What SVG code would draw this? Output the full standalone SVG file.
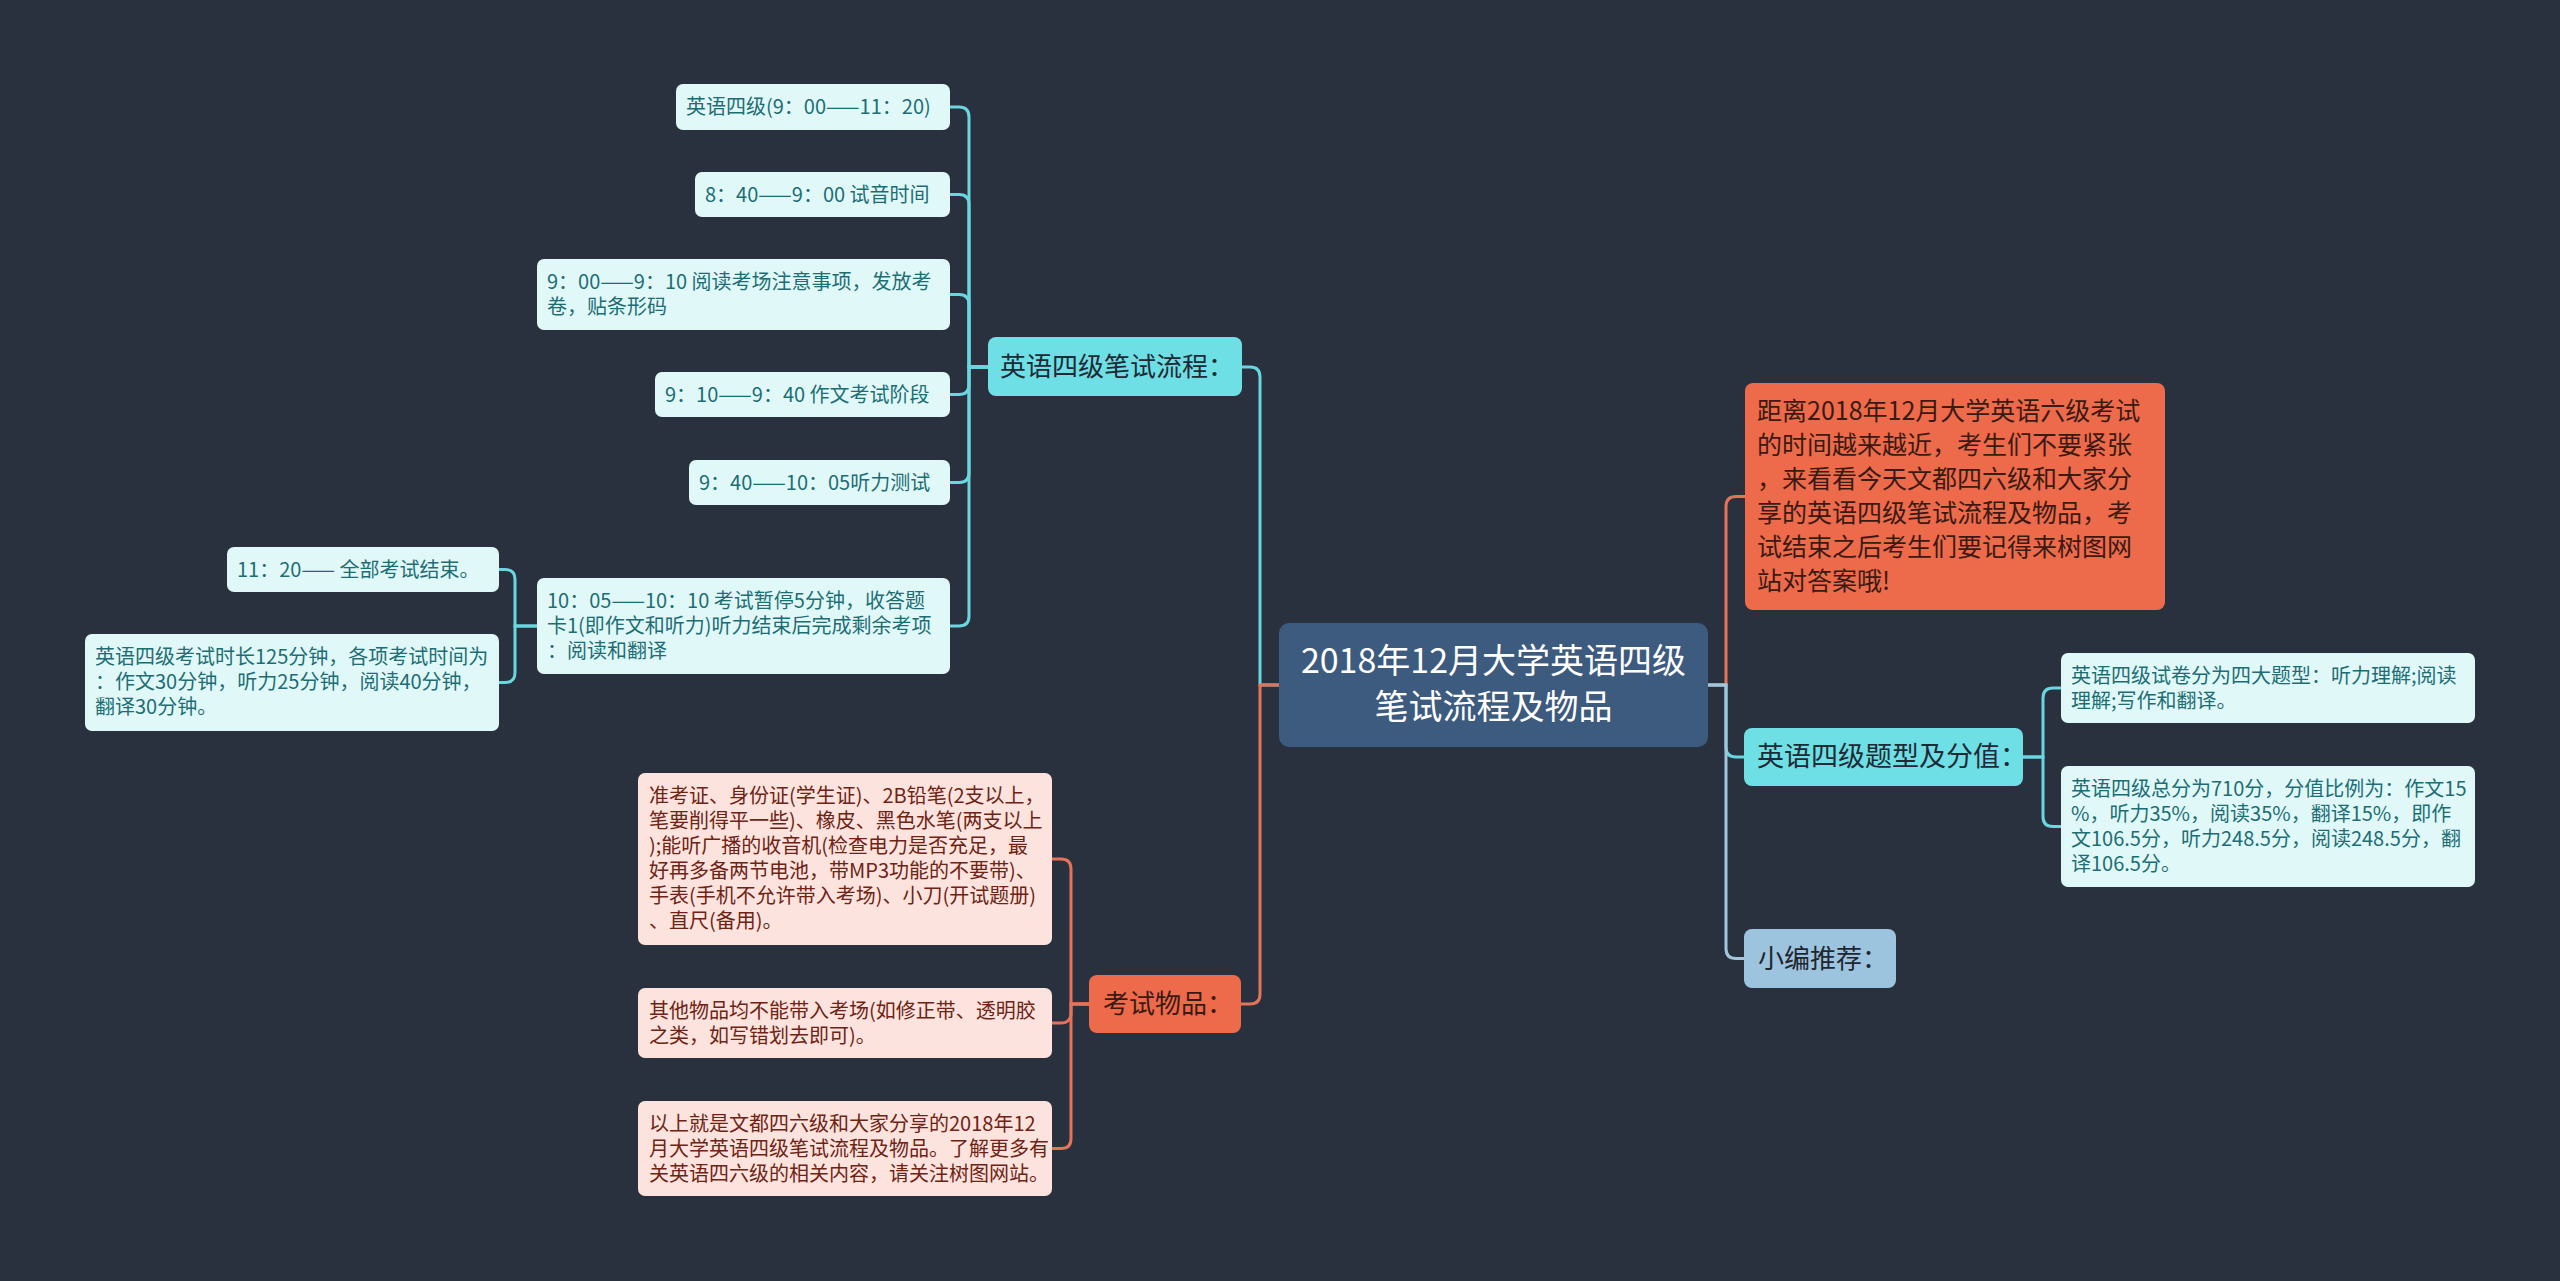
<svg xmlns="http://www.w3.org/2000/svg" width="2560" height="1281" viewBox="0 0 2560 1281">
<style>
text{font-family:"Noto Sans CJK SC","Noto Sans",sans-serif;}
.bg{fill:#29303e;}
.root rect{fill:#3d5a7f;}
.root text{fill:#ffffff;font-size:34px;text-anchor:middle;}
.cy rect{fill:#6edfe4;}
.cy text{fill:#1e2a35;font-size:26px;}
.or rect{fill:#ed6a4b;}
.or text{fill:#3a1a12;font-size:25px;}
.lb rect{fill:#9dc4de;}
.lb text{fill:#1f2630;font-size:26px;}
.lc rect{fill:#e1f8f9;}
.lc text{fill:#1c6e73;font-size:20px;}
.lp rect{fill:#fde3dd;}
.lp text{fill:#6e2315;font-size:20px;}
.c{fill:none;stroke-width:3;stroke-linecap:round;}
.cc{stroke:#6ad6df;}
.co{stroke:#e5735a;}
.cb{stroke:#a3c6dd;}
</style>
<rect class="bg" x="0" y="0" width="2560" height="1281"/>
<g id="connectors">
  <path class="c cc" d="M1279,685 H1260 V377 Q1260,367 1250,367 H1242"/>
  <path class="c co" d="M1279,685 H1260 V994 Q1260,1004 1250,1004 H1241"/>
  <path class="c co" d="M1708,685 H1726 V506.5 Q1726,496.5 1736,496.5 H1745"/>
  <path class="c cc" d="M1708,685 H1726 V747 Q1726,757 1736,757 H1744"/>
  <path class="c cb" d="M1708,685 H1726 V948.5 Q1726,958.5 1736,958.5 H1744"/>
  <path class="c cc" d="M988,367 H969 V117 Q969,107 959,107 H950"/>
  <path class="c cc" d="M988,367 H969 V204.5 Q969,194.5 959,194.5 H950"/>
  <path class="c cc" d="M988,367 H969 V304.5 Q969,294.5 959,294.5 H950"/>
  <path class="c cc" d="M988,367 H969 V384.5 Q969,394.5 959,394.5 H950"/>
  <path class="c cc" d="M988,367 H969 V472.5 Q969,482.5 959,482.5 H950"/>
  <path class="c cc" d="M988,367 H969 V616 Q969,626 959,626 H950"/>
  <path class="c cc" d="M537,626 H515 V579.5 Q515,569.5 505,569.5 H499"/>
  <path class="c cc" d="M537,626 H515 V672.5 Q515,682.5 505,682.5 H499"/>
  <path class="c co" d="M1089,1004 H1071 V869 Q1071,859 1061,859 H1052"/>
  <path class="c co" d="M1089,1004 H1071 V1013 Q1071,1023 1061,1023 H1052"/>
  <path class="c co" d="M1089,1004 H1071 V1138.5 Q1071,1148.5 1061,1148.5 H1052"/>
  <path class="c cc" d="M2023,757 H2043 V698 Q2043,688 2053,688 H2061"/>
  <path class="c cc" d="M2023,757 H2043 V816.5 Q2043,826.5 2053,826.5 H2061"/>
</g>
<g id="root" class="root">
  <rect x="1279" y="623" width="429" height="124" rx="10"/>
  <text x="1493.5" y="673">2018年12月大学英语四级</text>
  <text x="1493.5" y="719">笔试流程及物品</text>
</g>
<g id="flow" class="cy">
  <rect x="988" y="337" width="254" height="59" rx="8"/>
  <text x="1000" y="376">英语四级笔试流程：</text>
</g>
<g id="items" class="or">
  <rect x="1089" y="975" width="152" height="58" rx="8"/>
  <text x="1103" y="1013" style="font-size:26px">考试物品：</text>
</g>
<g id="intro" class="or">
  <rect x="1745" y="383" width="420" height="227" rx="8"/>
  <text x="1757" y="420">距离2018年12月大学英语六级考试</text>
  <text x="1757" y="454">的时间越来越近，考生们不要紧张</text>
  <text x="1757" y="488">，来看看今天文都四六级和大家分</text>
  <text x="1757" y="522">享的英语四级笔试流程及物品，考</text>
  <text x="1757" y="556">试结束之后考生们要记得来树图网</text>
  <text x="1757" y="590">站对答案哦!</text>
</g>
<g id="types" class="cy">
  <rect x="1744" y="728" width="279" height="58" rx="8"/>
  <text x="1757" y="766" style="font-size:27px">英语四级题型及分值：</text>
</g>
<g id="recommend" class="lb">
  <rect x="1744" y="929" width="152" height="59" rx="8"/>
  <text x="1758" y="968">小编推荐：</text>
</g>
<g id="n1" class="lc">
  <rect x="676" y="84" width="274" height="46" rx="7"/>
  <text x="686" y="114">英语四级(9：00——11：20)</text>
</g>
<g id="n2" class="lc">
  <rect x="695" y="172" width="255" height="45" rx="7"/>
  <text x="705" y="201.5">8：40——9：00 试音时间</text>
</g>
<g id="n3" class="lc">
  <rect x="537" y="259" width="413" height="71" rx="7"/>
  <text x="547" y="288.5">9：00——9：10 阅读考场注意事项，发放考</text>
  <text x="547" y="313.5">卷，贴条形码</text>
</g>
<g id="n4" class="lc">
  <rect x="655" y="372" width="295" height="45" rx="7"/>
  <text x="665" y="401.5">9：10——9：40 作文考试阶段</text>
</g>
<g id="n5" class="lc">
  <rect x="689" y="460" width="261" height="45" rx="7"/>
  <text x="699" y="489.5">9：40——10：05听力测试</text>
</g>
<g id="n6" class="lc">
  <rect x="537" y="578" width="413" height="96" rx="7"/>
  <text x="547" y="607.5">10：05——10：10 考试暂停5分钟，收答题</text>
  <text x="547" y="632.5">卡1(即作文和听力)听力结束后完成剩余考项</text>
  <text x="547" y="657.5">：阅读和翻译</text>
</g>
<g id="n6a" class="lc">
  <rect x="227" y="547" width="272" height="45" rx="7"/>
  <text x="237" y="576.5">11：20—— 全部考试结束。</text>
</g>
<g id="n6b" class="lc">
  <rect x="85" y="634" width="414" height="97" rx="7"/>
  <text x="95" y="663.5">英语四级考试时长125分钟，各项考试时间为</text>
  <text x="95" y="688.5">：作文30分钟，听力25分钟，阅读40分钟，</text>
  <text x="95" y="713.5">翻译30分钟。</text>
</g>
<g id="i1" class="lp">
  <rect x="638" y="773" width="414" height="172" rx="7"/>
  <text x="649" y="803">准考证、身份证(学生证)、2B铅笔(2支以上，</text>
  <text x="649" y="828">笔要削得平一些)、橡皮、黑色水笔(两支以上</text>
  <text x="649" y="853">);能听广播的收音机(检查电力是否充足，最</text>
  <text x="649" y="878">好再多备两节电池，带MP3功能的不要带)、</text>
  <text x="649" y="903">手表(手机不允许带入考场)、小刀(开试题册)</text>
  <text x="649" y="928">、直尺(备用)。</text>
</g>
<g id="i2" class="lp">
  <rect x="638" y="988" width="414" height="70" rx="7"/>
  <text x="649" y="1017.5">其他物品均不能带入考场(如修正带、透明胶</text>
  <text x="649" y="1042.5">之类，如写错划去即可)。</text>
</g>
<g id="i3" class="lp">
  <rect x="638" y="1101" width="414" height="95" rx="7"/>
  <text x="649" y="1130.5">以上就是文都四六级和大家分享的2018年12</text>
  <text x="649" y="1155.5">月大学英语四级笔试流程及物品。了解更多有</text>
  <text x="649" y="1180.5">关英语四六级的相关内容，请关注树图网站。</text>
</g>
<g id="r1" class="lc">
  <rect x="2061" y="653" width="414" height="70" rx="7"/>
  <text x="2071" y="682.5">英语四级试卷分为四大题型：听力理解;阅读</text>
  <text x="2071" y="707.5">理解;写作和翻译。</text>
</g>
<g id="r2" class="lc">
  <rect x="2061" y="766" width="414" height="121" rx="7"/>
  <text x="2071" y="795.5">英语四级总分为710分，分值比例为：作文15</text>
  <text x="2071" y="820.5">%，听力35%，阅读35%，翻译15%，即作</text>
  <text x="2071" y="845.5">文106.5分，听力248.5分，阅读248.5分，翻</text>
  <text x="2071" y="870.5">译106.5分。</text>
</g>
</svg>
